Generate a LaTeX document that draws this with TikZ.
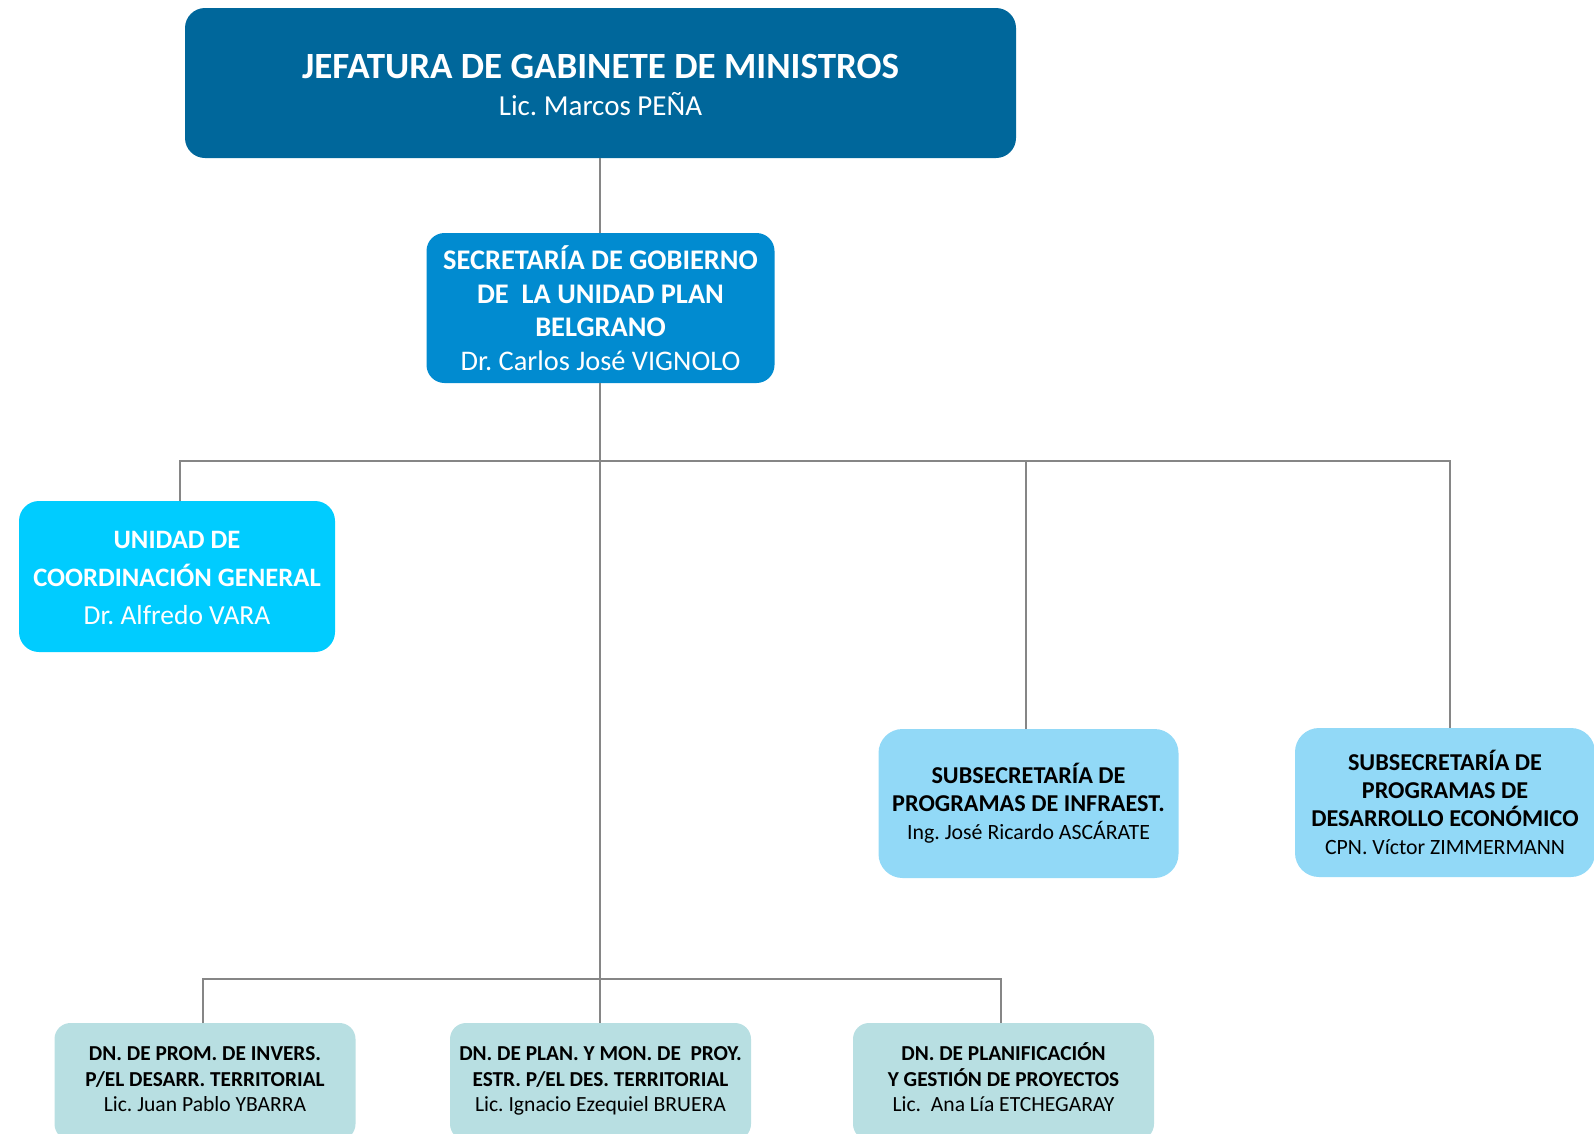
\documentclass[tikz,border=0pt]{standalone}
\usepackage{fontspec}
\setmainfont{Carlito}
\frenchspacing
\definecolor{cjgm}{HTML}{00679B}
\definecolor{csec}{HTML}{018BD0}
\definecolor{cucg}{HTML}{00CCFF}
\definecolor{csub}{HTML}{92D9F7}
\definecolor{cdn}{HTML}{B8DFE2}
\definecolor{cline}{HTML}{868686}
\begin{document}
\begin{tikzpicture}[x=1pt,y=-1pt,
  boxbase/.style={inner sep=0pt, draw=none},
  txtbase/.style={inner sep=0pt, align=center},
  jgmbox/.style={boxbase, fill=cjgm, rounded corners=20pt,
    minimum width=831pt, minimum height=150pt},
  jgmtext/.style={txtbase, text=white, font=\fontsize{29}{37}\selectfont},
  secbox/.style={boxbase, fill=csec, rounded corners=18pt,
    minimum width=348pt, minimum height=150pt},
  sectext/.style={txtbase, text=white, font=\fontsize{28.4}{33.5}\selectfont},
  ucgbox/.style={boxbase, fill=cucg, rounded corners=20pt,
    minimum width=316pt, minimum height=151pt},
  ucgtext/.style={txtbase, text=white, font=\fontsize{27.5}{38}\selectfont},
  subbox/.style={boxbase, fill=csub, rounded corners=24pt,
    minimum width=300pt, minimum height=149pt},
  subtext/.style={txtbase, text=black, font=\fontsize{21.8}{28}\selectfont},
  dnbox/.style={boxbase, fill=cdn, rounded corners=16pt,
    minimum width=301pt, minimum height=117pt},
  dntext/.style={txtbase, text=black, font=\fontsize{21.6}{25.5}\selectfont},
  conn/.style={draw=cline, line width=2pt}
]
\newcommand{\hjgm}[1]{{\fontsize{37}{37}\selectfont\bfseries #1}}
\newcommand{\hucg}[1]{{\fontsize{26.6}{38}\selectfont\bfseries #1}}
\newcommand{\hsub}[1]{{\fontsize{24.2}{28}\selectfont\bfseries #1}}
\newcommand{\hdn}[1]{{\fontsize{21.3}{25.5}\selectfont\bfseries #1}}
\useasboundingbox (0,0) rectangle (1594,1133);

% boxes
\node[jgmbox] (jgm) at (600.5,83) {};
\node[secbox] (sec) at (600.5,308) {};
\node[ucgbox] (ucg) at (177,576.5) {};
\node[subbox] (spi) at (1028.5,803.5) {};
\node[subbox] (spe) at (1445,802.5) {};
\node[dnbox] (dn1) at (205,1081.5) {};
\node[dnbox] (dn2) at (600.5,1081.5) {};
\node[dnbox] (dn3) at (1003.5,1081.5) {};

% texts
\node[jgmtext] (jgmt) at ([yshift=-1.5pt]jgm.center) {\hjgm{JEFATURA DE GABINETE DE MINISTROS}\\Lic. Marcos PEÑA};
\node[sectext] (sect) at (sec.center) {\textbf{SECRETARÍA DE GOBIERNO}\\\textbf{DE~ LA UNIDAD PLAN}\\\textbf{BELGRANO}\\Dr. Carlos José VIGNOLO};
\node[ucgtext] (ucgt) at ([yshift=-1.2pt]ucg.center) {\hucg{UNIDAD DE}\\\hucg{COORDINACIÓN GENERAL}\\Dr. Alfredo VARA};
\node[subtext] (spit) at (spi.center) {\hsub{SUBSECRETARÍA DE}\\\hsub{PROGRAMAS DE INFRAEST.}\\Ing. José Ricardo ASCÁRATE};
\node[subtext] (spet) at ([yshift=-1.5pt]spe.center) {\hsub{SUBSECRETARÍA DE}\\\hsub{PROGRAMAS DE}\\\hsub{DESARROLLO ECONÓMICO}\\CPN. Víctor ZIMMERMANN\vphantom{y}};
\node[dntext] (dn1t) at ([yshift=2.5pt]dn1.center) {\hdn{\vphantom{Ó}DN. DE PROM. DE INVERS.}\\\hdn{P/EL DESARR. TERRITORIAL}\\Lic. Juan Pablo YBARRA\vphantom{y}};
\node[dntext] (dn2t) at ([yshift=2.5pt]dn2.center) {\hdn{\vphantom{Ó}DN. DE PLAN. Y MON. DE~ PROY.}\\\hdn{ESTR. P/EL DES. TERRITORIAL}\\Lic. Ignacio Ezequiel BRUERA\vphantom{y}};
\node[dntext] (dn3t) at ([yshift=2.5pt]dn3.center) {\hdn{DN. DE PLANIFICACIÓN}\\\hdn{Y GESTIÓN DE PROYECTOS}\\Lic.~ Ana Lía ETCHEGARAY\vphantom{y}};

% connectors
\coordinate (b1) at (600,461);
\coordinate (b2) at (600,979);
\coordinate (ucgtop) at (179.5,501);
\coordinate (spitop) at (1026,729);
\coordinate (spetop) at (1450,728);
\coordinate (dn1top) at (203,1023);
\coordinate (dn2top) at (600,1023);
\coordinate (dn3top) at (1001,1023);
\coordinate (jgmbot) at (600,158);
\coordinate (sectop) at (600,233);
\coordinate (secbot) at (600,383);

\draw[conn] (jgmbot) -- (sectop);
\draw[conn] (secbot) -- (b1) -- (b2);
\draw[conn] (ucgtop) |- (b1) -| (spetop);
\draw[conn] (spitop) -- (spitop |- b1);
\draw[conn] (dn1top) |- (b2) -| (dn3top);
\draw[conn] (b2) -- (dn2top);
\end{tikzpicture}
\end{document}
